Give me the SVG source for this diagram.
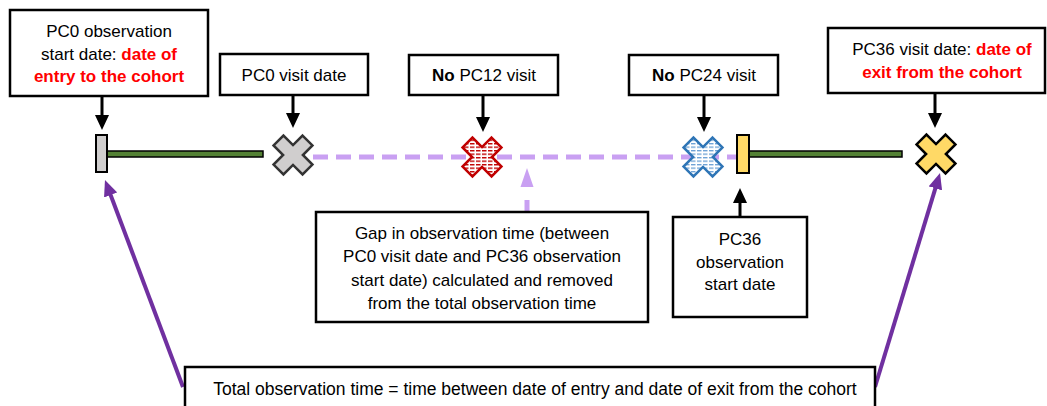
<svg xmlns="http://www.w3.org/2000/svg" xmlns:xlink="http://www.w3.org/1999/xlink" width="1047" height="406" viewBox="0 0 1047 406">
  <style>
    .box { fill: #ffffff; stroke: #000000; stroke-width: 2.5; }
    .lbl { font-family: "Liberation Sans", Arial, sans-serif; font-size: 17px; fill: #000000; text-anchor: middle; }
    .hl { fill: #ff0000; font-weight: bold; }
    .b { font-weight: bold; }
    .track { fill: #548235; stroke: #000000; stroke-width: 1.5; }
    .blk { stroke: #000000; stroke-width: 3; fill: none; marker-end: url(#headBlack); }
    .pur { stroke: #7030a0; stroke-width: 4; fill: none; marker-end: url(#headPurple); }
    .gap { stroke: #c9a0f2; stroke-width: 5; fill: none; }
  </style>
  <defs>
    <marker id="headBlack" markerUnits="userSpaceOnUse" markerWidth="15" markerHeight="14" refX="7" refY="7" orient="auto">
      <path d="M0,0 L15,7 L0,14 Z" fill="#000000"/>
    </marker>
    <marker id="headPurple" markerUnits="userSpaceOnUse" markerWidth="16" markerHeight="14" refX="8" refY="7" orient="auto">
      <path d="M0,0 L16,7 L0,14 Z" fill="#7030a0"/>
    </marker>
    <pattern id="hatchRed" patternUnits="userSpaceOnUse" width="6" height="3.5" patternTransform="rotate(-45)">
      <rect width="6" height="3.5" fill="#ffffff"/>
      <rect x="0" y="0" width="4.5" height="1.4" fill="#c00000"/>
    </pattern>
    <pattern id="hatchBlue" patternUnits="userSpaceOnUse" width="6" height="3.5" patternTransform="rotate(-45)">
      <rect width="6" height="3.5" fill="#ffffff"/>
      <rect x="0" y="0" width="4.5" height="1.3" fill="#6a9fd4"/>
    </pattern>
    <!-- cross marker shape, drawn as a plus and rotated into an X -->
    <polygon id="xmark" points="-7,-20.5 7,-20.5 7,-7 20.5,-7 20.5,7 7,7 7,20.5 -7,20.5 -7,7 -20.5,7 -20.5,-7 -7,-7"/>
  </defs>

  <!-- timeline -->
  <g id="timeline">
    <rect class="track" x="107" y="151" width="156" height="6"/>
    <rect class="track" x="749" y="151" width="153" height="6"/>
    <line class="gap" x1="313" y1="157" x2="737" y2="157" stroke-dasharray="15 8"/>
  </g>

  <!-- connectors -->
  <g id="connectors">
    <line class="blk" x1="102" y1="96" x2="102" y2="122"/>
    <line class="blk" x1="293" y1="95" x2="293" y2="120"/>
    <line class="blk" x1="483" y1="95" x2="483" y2="124"/>
    <line class="blk" x1="704" y1="95" x2="704" y2="124"/>
    <line class="blk" x1="935" y1="93" x2="935" y2="120"/>
    <line class="blk" x1="740" y1="217" x2="740" y2="196"/>
    <line class="pur" x1="183" y1="387" x2="107.8" y2="187.5"/>
    <line class="pur" x1="875" y1="387" x2="937.7" y2="180.7"/>
    <line class="gap" x1="527" y1="213" x2="527" y2="200"/>
    <polygon points="520.5,187 533.5,187 527,168" fill="#c9a0f2"/>
  </g>

  <!-- timeline markers -->
  <g id="pc0-start-bar">
    <rect x="96" y="135" width="11" height="37" fill="#d0cece" stroke="#000000" stroke-width="2"/>
  </g>
  <g id="pc0-visit-x">
    <use xlink:href="#xmark" transform="translate(293,155) rotate(45)" fill="#d0cece" stroke="#333333" stroke-width="2.5"/>
  </g>
  <g id="pc12-x">
    <use xlink:href="#xmark" transform="translate(482,157) rotate(45)" fill="url(#hatchRed)" stroke="#c00000" stroke-width="2.5"/>
  </g>
  <g id="pc24-x">
    <use xlink:href="#xmark" transform="translate(703,157) rotate(45)" fill="url(#hatchBlue)" stroke="#2e75b6" stroke-width="2.5"/>
  </g>
  <g id="pc36-start-bar">
    <rect x="737" y="135" width="12" height="38" fill="#ffd966" stroke="#000000" stroke-width="2"/>
  </g>
  <g id="pc36-visit-x">
    <use xlink:href="#xmark" transform="translate(936,154) rotate(45)" fill="#ffd966" stroke="#000000" stroke-width="2.5"/>
  </g>

  <!-- label boxes -->
  <g id="pc0-observation-start">
    <rect class="box" x="10" y="10" width="198" height="86"/>
    <text class="lbl" x="109" y="37">PC0 observation</text>
    <text class="lbl" x="109" y="60">start date: <tspan class="hl">date of</tspan></text>
    <text class="lbl hl" x="109" y="82">entry to the cohort</text>
  </g>
  <g id="pc0-visit">
    <rect class="box" x="220" y="54" width="148" height="41"/>
    <text class="lbl" x="294" y="81">PC0 visit date</text>
  </g>
  <g id="pc12-visit">
    <rect class="box" x="409" y="55" width="149" height="40"/>
    <text class="lbl" x="484" y="81"><tspan class="b">No</tspan> PC12 visit</text>
  </g>
  <g id="pc24-visit">
    <rect class="box" x="629" y="55" width="149" height="40"/>
    <text class="lbl" x="704" y="81"><tspan class="b">No</tspan> PC24 visit</text>
  </g>
  <g id="pc36-visit">
    <rect class="box" x="828" y="28" width="217" height="65"/>
    <text class="lbl" x="942" y="55">PC36 visit date: <tspan class="hl">date of</tspan></text>
    <text class="lbl hl" x="942" y="78">exit from the cohort</text>
  </g>
  <g id="gap-note">
    <rect class="box" x="316" y="212" width="332" height="110"/>
    <text class="lbl" x="482" y="239">Gap in observation time (between</text>
    <text class="lbl" x="482" y="262">PC0 visit date and PC36 observation</text>
    <text class="lbl" x="482" y="286">start date) calculated and removed</text>
    <text class="lbl" x="482" y="309">from the total observation time</text>
  </g>
  <g id="pc36-observation-start">
    <rect class="box" x="673" y="217" width="134" height="100"/>
    <text class="lbl" x="740" y="245">PC36</text>
    <text class="lbl" x="740" y="268">observation</text>
    <text class="lbl" x="740" y="290">start date</text>
  </g>
  <g id="total-time">
    <rect class="box" x="185" y="367" width="690" height="45"/>
    <text class="lbl" x="535" y="395" style="font-size:17.5px">Total observation time = time between date of entry and date of exit from the cohort</text>
  </g>
</svg>
